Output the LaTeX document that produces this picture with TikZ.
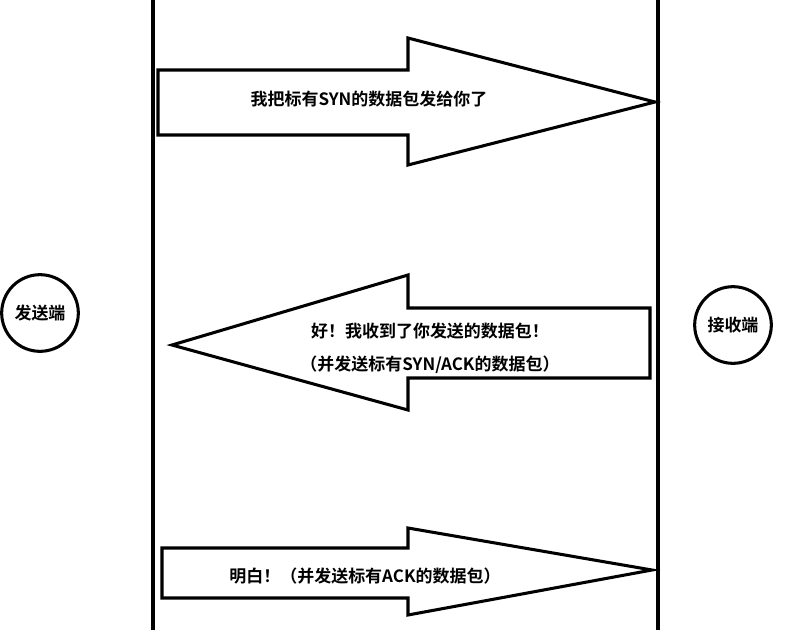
\documentclass[tikz,border=0pt]{standalone}
\usepackage{fontspec}
\newfontfamily\cjk{Noto Sans CJK SC}[BoldFont={Noto Sans CJK SC Bold}]
\usetikzlibrary{positioning}
\tikzset{
  lane/.style={line width=3.4pt},
  blk/.style={line width=2.6pt, fill=white},
  txt/.style={font=\cjk\bfseries\fontsize{14.5pt}{17pt}\selectfont, inner sep=0pt},
  party/.style={circle, draw, line width=2.6pt, minimum size=2.3cm, font=\cjk\bfseries\fontsize{14.5pt}{17pt}\selectfont}
}
\begin{document}
\begin{tikzpicture}[x=0.03cm, y=-0.03cm]
	\useasboundingbox (0,0) rectangle (801,630);
	% lanes
	\draw [lane] (153,0) -- (153,630);
	\draw [lane] (658,0) -- (658,630);
	% parties
	\node [party] (send) at (40,313) {发送端};
	\node [party] (recv) at (733,325) {接收端};
	% SYN
	\draw [blk] (158,70) -- (408,70) -- (408,38) -- (655,102) -- (408,165) -- (408,135) -- (158,135) -- cycle;
	\node [txt] (syn) at (369,99) {我把标有SYN的数据包发给你了};
	% SYN/ACK
	\draw [blk] (650,308) -- (408,308) -- (408,275) -- (172,345) -- (408,410) -- (408,378) -- (650,378) -- cycle;
	\node [txt] (synack) at (430,331) {好！我收到了你发送的数据包！};
	\node [txt, below=29pt of synack.center, anchor=center] (synack2) {（并发送标有SYN/ACK的数据包）};
	% ACK
	\draw [blk] (162,548) -- (408,548) -- (408,528) -- (652,570) -- (408,615) -- (408,598) -- (162,598) -- cycle;
	\node [txt] (ack) at (365,576) {明白！（并发送标有ACK的数据包）};
\end{tikzpicture}
\end{document}
